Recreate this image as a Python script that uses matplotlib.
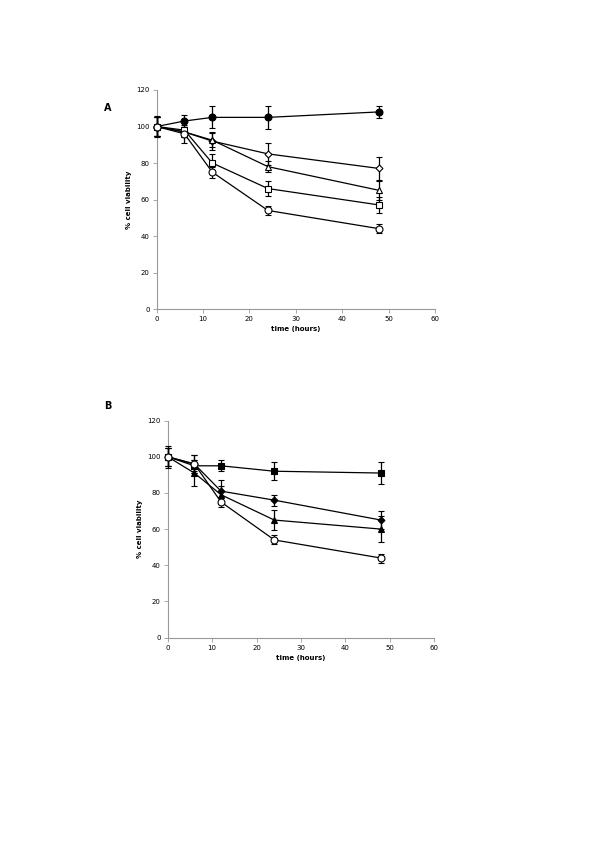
import numpy as np
import matplotlib
matplotlib.use("Agg")
import matplotlib.pyplot as plt

# time points (hours)
time = [0, 6, 12, 24, 48]

# Panel A series: (values, errors, marker, filled)
a_filled_circle = [100, 103, 105, 105, 108]
a_filled_circle_err = [6, 3.5, 6, 6.5, 3.5]
a_diamond = [100, 97, 92, 85, 77]
a_diamond_err = [5, 3, 5, 6, 6.5]
a_triangle = [100, 97, 92.5, 78, 65]
a_triangle_err = [5, 3, 4, 3, 5]
a_square = [100, 98, 80, 66, 57]
a_square_err = [5, 2, 5, 4, 4.5]
a_circle = [100, 96, 75, 54, 44]
a_circle_err = [5, 5, 3, 2.5, 2.5]

# Panel B series
b_square = [100, 95, 95, 92, 91]
b_square_err = [6, 3, 3, 5, 6]
b_diamond = [100, 96, 81, 76, 65]
b_diamond_err = [5, 5, 6, 3, 5]
b_triangle = [100, 91, 79, 65, 60]
b_triangle_err = [5, 7, 5, 5.5, 7]
b_circle = [100, 96, 75, 54, 44]
b_circle_err = [5, 5, 3, 2.5, 2.5]

panel_a = [
    (a_filled_circle, a_filled_circle_err, 'o', 'black', 5),
    (a_diamond, a_diamond_err, 'D', 'white', 3.5),
    (a_triangle, a_triangle_err, '^', 'white', 4.5),
    (a_square, a_square_err, 's', 'white', 5),
    (a_circle, a_circle_err, 'o', 'white', 5),
]
panel_b = [
    (b_square, b_square_err, 's', 'black', 5),
    (b_diamond, b_diamond_err, 'D', 'black', 3.5),
    (b_triangle, b_triangle_err, '^', 'black', 4.5),
    (b_circle, b_circle_err, 'o', 'white', 5),
]

fig = plt.figure(figsize=(6, 8.49), dpi=100)
ax_a = fig.add_axes([0.261, 0.636, 0.464, 0.258])
ax_b = fig.add_axes([0.2795, 0.249, 0.4443, 0.2556])


def style_axis(ax):
    ax.set_xlim(0, 60)
    ax.set_ylim(0, 120)
    ax.set_xticks(range(0, 61, 10))
    ax.set_yticks(range(0, 121, 20))
    for s in ['top', 'right']:
        ax.spines[s].set_visible(False)
    for s in ['left', 'bottom']:
        ax.spines[s].set_color('#999999')
        ax.spines[s].set_linewidth(0.8)
    ax.tick_params(direction='out', length=3, width=0.6, color='#999999',
                   labelsize=5, pad=2)
    ax.set_xlabel('time (hours)', fontsize=5, fontweight='bold', labelpad=3)
    ax.set_ylabel('% cell viability', fontsize=5, fontweight='bold', labelpad=3)


def draw(ax, series):
    for vals, errs, mk, fc, ms in series:
        ax.errorbar(time, vals, yerr=errs, color='black', lw=0.9,
                    marker=mk, ms=ms, mfc=fc, mec='black', mew=0.8,
                    ecolor='black', elinewidth=0.9, capsize=2.5,
                    capthick=0.9, clip_on=False, zorder=3)


draw(ax_a, panel_a)
draw(ax_b, panel_b)
style_axis(ax_a)
style_axis(ax_b)

fig.text(104 / 600, 1 - 108 / 849, 'A', fontsize=7, fontweight='bold',
         ha='left', va='center')
fig.text(104 / 600, 1 - 406 / 849, 'B', fontsize=7, fontweight='bold',
         ha='left', va='center')

fig.savefig('out.png', dpi=100)
